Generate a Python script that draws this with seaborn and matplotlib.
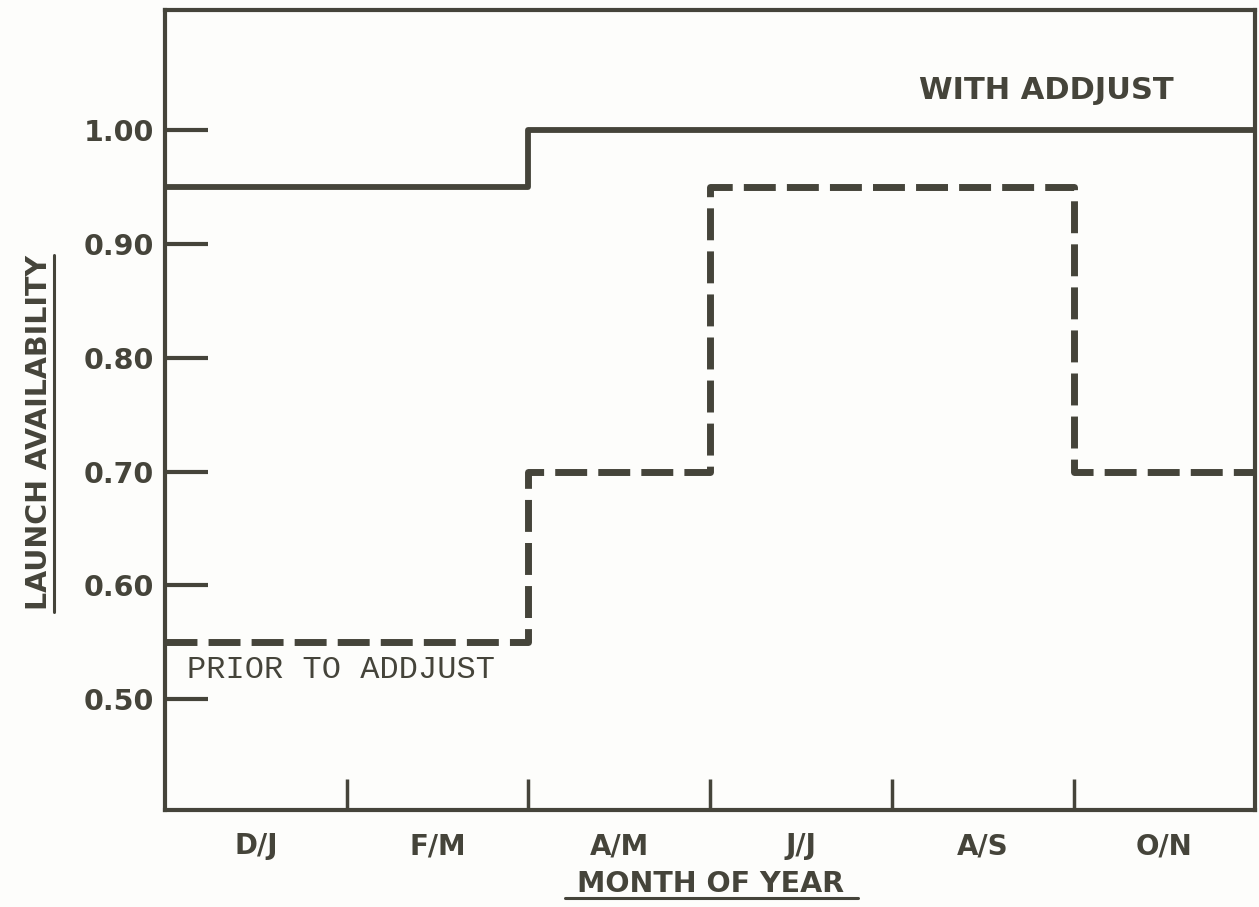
import pandas as pd
import matplotlib.pyplot as plt
from matplotlib.ticker import FixedLocator
import seaborn as sns

# ---------------------------------------------------------
# Data
# ---------------------------------------------------------
months = ["D/J", "F/M", "A/M", "J/J", "A/S", "O/N"]
with_addjust = [0.95, 0.95, 1.00, 1.00, 1.00, 1.00]
prior_to_addjust = [0.55, 0.55, 0.70, 0.95, 0.95, 0.70]
y_ticks = [0.50, 0.60, 0.70, 0.80, 0.90, 1.00]

INK = "#45443a"
PAPER = "#fdfdfb"

sns.set_style("white")
plt.rcParams["font.family"] = ["DejaVu Sans"]

# step edges: each two-month bin spans one unit, last value repeated for steps-post
edges = list(range(len(months) + 1))
df = pd.DataFrame({
    "edge": edges * 2,
    "availability": with_addjust + with_addjust[-1:] + prior_to_addjust + prior_to_addjust[-1:],
    "series": ["WITH ADDJUST"] * len(edges) + ["PRIOR TO ADDJUST"] * len(edges),
})

fig = plt.figure(figsize=(12.59, 9.07), dpi=100, facecolor=PAPER)
ax = fig.add_axes([0.131, 0.107, 0.866, 0.882])
ax.set_facecolor(PAPER)

sns.lineplot(data=df[df["series"] == "WITH ADDJUST"], x="edge", y="availability",
             drawstyle="steps-post", color=INK, linewidth=4.2, ax=ax)
sns.lineplot(data=df[df["series"] == "PRIOR TO ADDJUST"], x="edge", y="availability",
             drawstyle="steps-post", color=INK, linewidth=5, ax=ax,
             linestyle=(0, (4.6, 1.6)))

ax.set_xlim(0, len(months))
ax.set_ylim(0.403, 1.105)

# y axis: short inward marks, labels outside
ax.set_yticks(y_ticks)
ax.set_yticklabels([f"{v:.2f}" for v in y_ticks], fontsize=20.5, fontweight="bold", color=INK)
ax.tick_params(axis="y", direction="in", length=31, width=3, color=INK, pad=8, left=True)

# x axis: labels centred in each bin, inward marks on the bin boundaries
ax.set_xticks([i + 0.5 for i in range(len(months))])
ax.set_xticklabels(months, fontsize=20, fontweight="bold", color=INK)
ax.tick_params(axis="x", which="major", length=0, pad=16)
ax.xaxis.set_minor_locator(FixedLocator(range(1, len(months))))
ax.tick_params(axis="x", which="minor", direction="in", length=22, width=2.5, color=INK, bottom=True)

for side in ["left", "right", "top", "bottom"]:
    ax.spines[side].set_visible(True)
    ax.spines[side].set_color(INK)
    ax.spines[side].set_linewidth(3)

ax.set_xlabel("MONTH OF YEAR", fontsize=20.5, fontweight="bold", color=INK, va="center")
ax.set_ylabel("LAUNCH AVAILABILITY", fontsize=20.5, fontweight="bold", color=INK)
ax.xaxis.set_label_coords(0.50, -0.092)
ax.yaxis.set_label_coords(-0.103, 0.472)

# underlines under the axis titles (mathtext has no \underline)
ax.plot([0.367, 0.636], [-0.110, -0.110], transform=ax.transAxes,
        color=INK, linewidth=2.2, clip_on=False)
ax.plot([-0.1020, -0.1020], [0.2475, 0.694], transform=ax.transAxes,
        color=INK, linewidth=2.2, clip_on=False)

ax.text(4.85, 1.034, "WITH ADDJUST", ha="center", va="center",
        fontsize=22, fontweight="bold", color=INK)
ax.text(0.12, 0.526, "PRIOR TO ADDJUST", ha="left", va="center",
        fontsize=23, color=INK, family=["Liberation Mono", "DejaVu Sans Mono"])

plt.savefig("out.png", dpi=100, facecolor=PAPER)
plt.close()
